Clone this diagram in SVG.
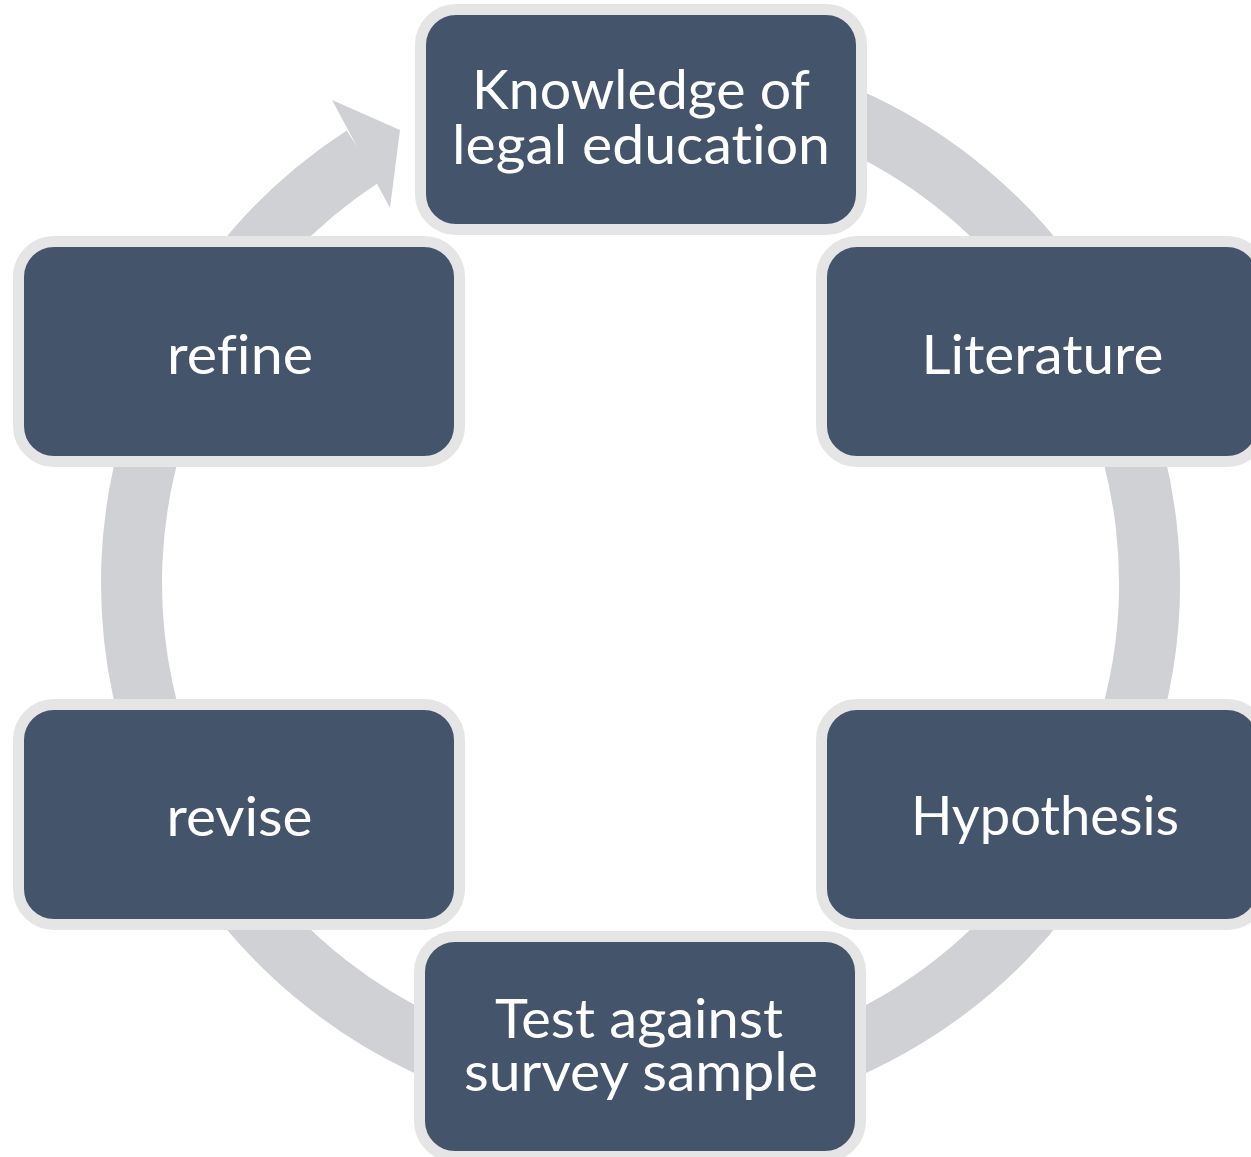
<svg xmlns="http://www.w3.org/2000/svg" width="1251" height="1157" viewBox="0 0 1251 1157">
  <style>
    .ring { fill: none; stroke: #d0d1d5; stroke-width: 61; }
    .head { fill: #d0d1d5; }
    .box { fill: #44546a; stroke: #e5e5e5; stroke-width: 11; }
    .lbl { fill: #ffffff; font-family: Lato, "Open Sans", "Liberation Sans", sans-serif; font-size: 55px; text-anchor: middle; font-variant-ligatures: none; font-feature-settings: "liga" 0, "clig" 0; }
  </style>
  <rect width="1251" height="1157" fill="#ffffff"/>
  <g id="connectors">
    <path class="ring" d="M 640.5 74 A 509 509 0 1 1 363.3 156.1"/>
    <polygon class="head" points="332,100 400,130 390,208"/>
  </g>
  <g id="node-knowledge">
    <rect class="box" x="420.5" y="9.5" width="441" height="220" rx="35.5" ry="35.5"/>
    <text class="lbl" x="641" y="109" textLength="338" lengthAdjust="spacingAndGlyphs">Knowledge of</text>
    <text class="lbl" x="641" y="164" textLength="378" lengthAdjust="spacingAndGlyphs">legal education</text>
  </g>
  <g id="node-literature">
    <rect class="box" x="821.5" y="241.5" width="441" height="220" rx="35.5" ry="35.5"/>
    <text class="lbl" x="1042.5" y="374" textLength="242" lengthAdjust="spacingAndGlyphs">Literature</text>
  </g>
  <g id="node-hypothesis">
    <rect class="box" x="821.5" y="704.5" width="441" height="220" rx="35.5" ry="35.5"/>
    <text class="lbl" x="1045" y="835" textLength="268" lengthAdjust="spacingAndGlyphs">Hypothesis</text>
  </g>
  <g id="node-test">
    <rect class="box" x="419.5" y="936.5" width="441" height="220" rx="35.5" ry="35.5"/>
    <text class="lbl" x="639" y="1038" textLength="288" lengthAdjust="spacingAndGlyphs">Test against</text>
    <text class="lbl" x="641" y="1091" textLength="354" lengthAdjust="spacingAndGlyphs">survey sample</text>
  </g>
  <g id="node-revise">
    <rect class="box" x="18.5" y="704.5" width="441" height="220" rx="35.5" ry="35.5"/>
    <text class="lbl" x="239.5" y="836" textLength="146" lengthAdjust="spacingAndGlyphs">revise</text>
  </g>
  <g id="node-refine">
    <rect class="box" x="18.5" y="241.5" width="441" height="220" rx="35.5" ry="35.5"/>
    <text class="lbl" x="240" y="374" textLength="146" lengthAdjust="spacingAndGlyphs">refine</text>
  </g>
</svg>
